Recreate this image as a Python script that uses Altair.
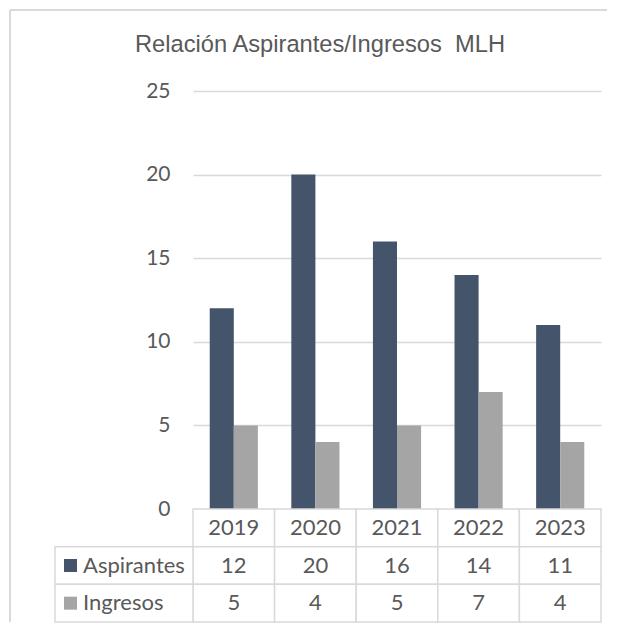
import altair as alt
import pandas as pd

# ---- data ----
years = ["2019", "2020", "2021", "2022", "2023"]
aspirantes = [12, 20, 16, 14, 11]
ingresos = [5, 4, 5, 7, 4]
series = ["Aspirantes", "Ingresos"]
colors = ["#44546A", "#A5A5A5"]
y_ticks = [0, 5, 10, 15, 20, 25]
title_text = "Relación Aspirantes/Ingresos\u00a0 MLH"
header_row = "Año"

rows = []
for i, yr in enumerate(years):
    rows.append({"year": yr, "serie": "Aspirantes", "valor": aspirantes[i]})
    rows.append({"year": yr, "serie": "Ingresos", "valor": ingresos[i]})
df = pd.DataFrame(rows)

header = pd.DataFrame({"year": years, "fila": header_row, "texto": years})
body = pd.DataFrame({"year": df["year"], "fila": df["serie"], "texto": df["valor"].astype(str)})
cells = pd.concat([header, body], ignore_index=True)
labels = pd.DataFrame({"fila": series})
one = pd.DataFrame({"k": [0]})

TEXT = "#595959"
GRID = "#D9D9D9"
FONT = "Lato"
FS = 22
AFS = 21

# ---- bar chart ----
x_bars = alt.X("year:N", sort=years, axis=None,
               scale=alt.Scale(paddingInner=0.41, paddingOuter=0.205))
bars = alt.Chart(df).mark_bar().encode(
    x=x_bars,
    xOffset=alt.XOffset("serie:N", sort=series),
    y=alt.Y("valor:Q", scale=alt.Scale(domain=[0, 25], nice=False),
            axis=alt.Axis(values=y_ticks, title=None, domain=False, ticks=False,
                          labelPadding=23, labelFont=FONT, labelFontSize=AFS,
                          labelColor=TEXT, gridColor=GRID, gridWidth=1.5)),
    color=alt.Color("serie:N", sort=series,
                    scale=alt.Scale(domain=series, range=colors), legend=None),
)

left_border = alt.Chart(one).mark_rule(color=GRID, strokeWidth=2).encode(
    x=alt.value(-183), y=alt.value(-81), y2=alt.value(531))
top_border = alt.Chart(one).mark_rule(color=GRID, strokeWidth=2).encode(
    x=alt.value(-183), x2=alt.value(414), y=alt.value(-81))
title = alt.Chart(one).mark_text(
    text=title_text, font="Liberation Sans", fontSize=23.7, color=TEXT,
    baseline="alphabetic", align="center").encode(x=alt.value(127), y=alt.value(-39))

top = alt.layer(left_border, top_border, title, bars).properties(width=408, height=418)

# ---- data table ----
x_tab = alt.X("year:N", sort=years, axis=None,
              scale=alt.Scale(paddingInner=0, paddingOuter=0))
y_tab = alt.Y("fila:N", axis=None,
              scale=alt.Scale(domain=[header_row] + series, paddingInner=0, paddingOuter=0))

cell_rects = alt.Chart(cells).mark_rect(fill="white", stroke=GRID, strokeWidth=1.5).encode(
    x=x_tab, y=y_tab)
cell_text = alt.Chart(cells).mark_text(font=FONT, fontSize=FS, color=TEXT).encode(
    x=x_tab, y=y_tab, text="texto:N")
label_rects = alt.Chart(labels).mark_rect(fill="white", stroke=GRID, strokeWidth=1.5).encode(
    x=alt.value(-138), x2=alt.value(0), y=y_tab)
label_text = alt.Chart(labels).mark_text(font=FONT, fontSize=FS, color=TEXT, align="left").encode(
    x=alt.value(-110), y=y_tab, text="fila:N")
squares = alt.Chart(labels).mark_square(size=169, opacity=1).encode(
    x=alt.value(-122.5), y=y_tab,
    color=alt.Color("fila:N", scale=alt.Scale(domain=series, range=colors), legend=None))

table = alt.layer(cell_rects, cell_text, label_rects, label_text, squares).properties(
    width=408, height=113)

chart = alt.vconcat(top, table, spacing=0, bounds="flush").configure_view(
    stroke=None).properties(padding={"left": 1, "top": 1, "right": 0, "bottom": 0})

chart.save("out.html", embed_options={"renderer": "svg", "actions": False})
